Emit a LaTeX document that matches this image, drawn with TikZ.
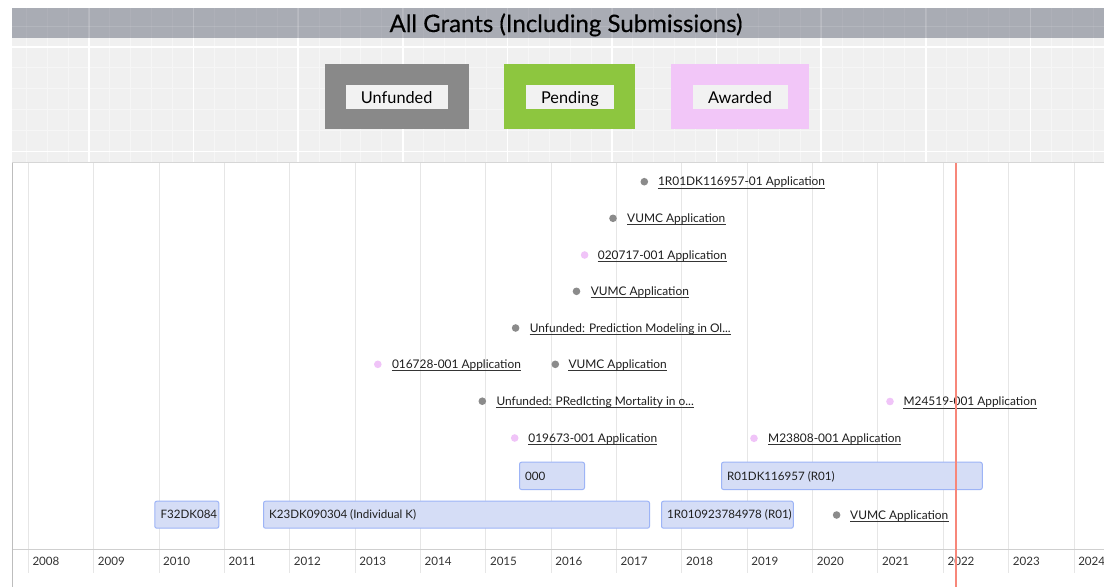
\documentclass[tikz,border=0pt]{standalone}
\usepackage{fontspec}
\setmainfont{Lato}
\newfontfamily\titlefont[FakeBold=0.45]{Lato}
\definecolor{titlebar}{HTML}{A9ACB4}
\definecolor{legbg}{HTML}{F0F0F0}
\definecolor{legminor}{HTML}{F6F6F6}
\definecolor{unf}{HTML}{898989}
\definecolor{pend}{HTML}{8DC63F}
\definecolor{awd}{HTML}{F2C6F8}
\definecolor{labbg}{HTML}{F2F2F2}
\definecolor{boxfill}{HTML}{D5DDF6}
\definecolor{boxline}{HTML}{9DB4F6}
\definecolor{gridc}{HTML}{E6E6E6}
\definecolor{axisc}{HTML}{CFCFCF}
\definecolor{borderc}{HTML}{BDBDBD}
\definecolor{sepc}{HTML}{D6D6D6}
\definecolor{nowc}{HTML}{F7877A}
\definecolor{txt}{HTML}{1E1E1E}
\definecolor{dotgray}{HTML}{8B8B8B}
\definecolor{dotpink}{HTML}{F0C4F8}
\newcommand\grantlink[6]{%
  \node[gdot, fill=#5] (#1d) at (#2,#4) {};
  \node[lnk, anchor=base west] (#1) at (#3,#4+4.2) {#6};
  \draw[ulc] ([yshift=-2.3pt]#1.base west) -- ([yshift=-2.3pt]#1.base east);
}
\newcommand\grantbox[6]{% name, x1, x2, ytop, ybottom, text
  \node[gbox, anchor=north west, minimum width={#3-#2}, minimum height={#5-#4}] (#1) at (#2,#4) {};
  \node[btxt, anchor=base west] (#1t) at ([xshift=6pt,yshift=-4.2pt]#1.west) {#6};
}
\begin{document}
\begin{tikzpicture}[x=1pt,y=-1pt,
  gdot/.style={circle, draw=none, inner sep=0pt, minimum size=7.6pt},
  lnk/.style={inner sep=0pt, font=\fontsize{11.9}{13}\selectfont, text=txt},
  ulc/.style={draw=txt!90, line width=0.9pt},
  gbox/.style={draw=boxline, fill=boxfill, line width=1pt, rounded corners=2pt, inner sep=0pt},
  btxt/.style={inner sep=0pt, font=\fontsize{11.6}{13}\selectfont, text=txt},
  yearlab/.style={inner sep=0pt, font=\fontsize{11.6}{13}\selectfont, text=black!80},
  gridl/.style={draw=gridc, line width=1pt},
  legbox/.style={draw=none, inner sep=0pt, anchor=north west},
  leglab/.style={fill=labbg, inner sep=0pt, anchor=north west},
  legtext/.style={inner sep=0pt, font=\fontsize{16.3}{18}\selectfont, text=black, anchor=base}
]
\useasboundingbox (0,0) rectangle (1104,587);
\fill[white] (0,0) rectangle (1104,587);
% ---------- legend background ----------
\fill[legbg] (12,38) rectangle (1104,162);
\foreach \i in {-3,...,48} \draw[legminor, line width=1pt] ({89+20.92*\i},38) -- ({89+20.92*\i},162);
\foreach \k in {1,...,4} \draw[legminor, line width=1pt] (12,{47+20.92*\k}) -- (1104,{47+20.92*\k});
\foreach \m in {0,...,9} \draw[white, line width=1.6pt] ({89+104.6*\m},38) -- ({89+104.6*\m},162);
\draw[white, line width=1.6pt] (12,47) -- (1104,47);
\draw[white, line width=1.6pt] (12,151.6) -- (1104,151.6);
% ---------- title bar ----------
\fill[titlebar] (12,7.5) rectangle (1104,38);
\foreach \i in {-3,...,48} \draw[white, opacity=0.06, line width=1pt] ({89+20.92*\i},7.5) -- ({89+20.92*\i},38);
\foreach \m in {0,...,9} \draw[white, opacity=0.14, line width=1.6pt] ({89+104.6*\m},7.5) -- ({89+104.6*\m},38);
\draw[white, opacity=0.12, line width=1pt] (12,26.1) -- (1104,26.1);
\node[inner sep=0pt, font=\titlefont\fontsize{24}{28}\selectfont, text=black, anchor=base] (title) at (566,32) {All Grants (Including Submissions)};
% ---------- legend ----------
\node[legbox, fill=unf, minimum width=144.4pt, minimum height=65.7pt] (lunf) at (324.3,63.3) {};
\node[leglab, minimum width=102.4pt, minimum height=24pt] (lunfl) at (345.3,84.3) {};
\node[legtext] (lunft) at ([yshift=-6.5pt]lunfl.center) {Unfunded};
\node[legbox, fill=pend, minimum width=131pt, minimum height=65.7pt] (lpen) at (504.2,63.3) {};
\node[leglab, minimum width=88.6pt, minimum height=24pt] (lpenl) at (525.4,84.3) {};
\node[legtext] (lpent) at ([yshift=-6.5pt]lpenl.center) {Pending};
\node[legbox, fill=awd, minimum width=137.5pt, minimum height=65.7pt] (lawd) at (671,63.3) {};
\node[leglab, minimum width=95pt, minimum height=24pt] (lawdl) at (692.3,84.3) {};
\node[legtext] (lawdt) at ([yshift=-6.5pt]lawdl.center) {Awarded};
% ---------- timeline frame ----------
\draw[sepc, line width=1.6pt] (12,162.6) -- (1104,162.6);
\foreach \Y in {2008,...,2024} {
  \draw[gridl] ({28.3+65.36*(\Y-2008)},163.4) -- ({28.3+65.36*(\Y-2008)},573);
  \node[yearlab, anchor=base west] (y\Y) at ({32.3+65.36*(\Y-2008)},565.9) {\Y};
}
\draw[axisc, line width=1.2pt] (12,549.3) -- (1104,549.3);
\draw[borderc, line width=1.2pt] (12.6,163.4) -- (12.6,587);
% ---------- grant bars ----------
\grantbox{b000}{519}{584}{461.7}{489}{000}
\grantbox{br01}{721}{981.8}{461.7}{489}{R01DK116957 (R01)}
\grantbox{bf32}{154.3}{218.3}{500.7}{527.7}{F32DK084}
\grantbox{bk23}{263}{649}{500.7}{527.7}{K23DK090304 (Individual K)}
\grantbox{b1r01}{661}{792.8}{500.7}{527.7}{1R010923784978 (R01)}
% ---------- submissions ----------
\grantlink{a1}{644.3}{657.8}{181.7}{dotgray}{1R01DK116957-01 Application}
\grantlink{a2}{613}{627}{218.3}{dotgray}{VUMC Application}
\grantlink{a3}{584.6}{597.7}{255}{dotpink}{020717-001 Application}
\grantlink{a4}{576.5}{590.6}{291.3}{dotgray}{VUMC Application}
\grantlink{a5}{515.6}{529.6}{328}{dotgray}{Unfunded: Prediction Modeling in Ol...}
\grantlink{a6}{377.8}{391.8}{364.3}{dotpink}{016728-001 Application}
\grantlink{a7}{555.3}{568.4}{364.3}{dotgray}{VUMC Application}
\grantlink{a8}{482.3}{496.3}{401.2}{dotgray}{Unfunded: PRedIcting Mortality in o...}
\grantlink{a9}{890}{903.4}{401.5}{dotpink}{M24519-001 Application}
\grantlink{a10}{514.7}{528.2}{438}{dotpink}{019673-001 Application}
\grantlink{a11}{754}{768}{438.3}{dotpink}{M23808-001 Application}
\grantlink{a12}{836.6}{850}{515}{dotgray}{VUMC Application}
% ---------- today marker ----------
\draw[nowc, line width=2.2pt] (955.7,163.4) -- (955.7,587);
\end{tikzpicture}
\end{document}
